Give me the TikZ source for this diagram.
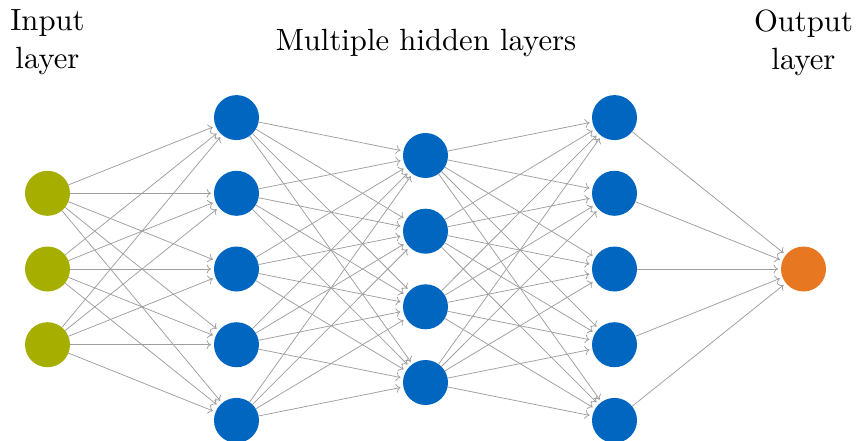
\documentclass[tikz,border=0pt]{standalone}
\usetikzlibrary{arrows.meta}
\definecolor{ingreen}{RGB}{166,174,0}
\definecolor{hidblue}{RGB}{0,102,192}
\definecolor{outorange}{RGB}{232,119,34}
\definecolor{edgegray}{RGB}{158,158,158}
\begin{document}
\begin{tikzpicture}[x=1pt,y=-1pt,
  neuron/.style={circle,minimum size=45pt,inner sep=0pt,outer sep=0pt,draw=none},
  innode/.style={neuron,fill=ingreen},
  hidnode/.style={neuron,fill=hidblue},
  outnode/.style={neuron,fill=outorange},
  conn/.style={draw=edgegray,line width=0.75pt,-{Computer Modern Rightarrow[length=4.5pt,width=9pt]},shorten >=3pt},
  lbl/.style={font=\fontsize{10}{12.4}\selectfont,scale=3.07,inner sep=0pt,align=center}]
\useasboundingbox (0,0) rectangle (856,441);
% input layer
\foreach \k/\y in {1/193.3,2/269,3/344.7} \node[innode] (i\k) at (47.5,\y) {};
% hidden layer 1
\foreach \k/\y in {1/117.6,2/193.3,3/269,4/344.7,5/420.4} \node[hidnode] (a\k) at (236.5,\y) {};
% hidden layer 2
\foreach \k/\y in {1/155.5,2/231.2,3/306.8,4/382.5} \node[hidnode] (b\k) at (425.5,\y) {};
% hidden layer 3
\foreach \k/\y in {1/117.6,2/193.3,3/269,4/344.7,5/420.4} \node[hidnode] (c\k) at (614.5,\y) {};
% output
\node[outnode] (o1) at (803.5,269) {};
% labels
\node[lbl,anchor=north] (linput) at (47.5,9) {Input\\layer};
\node[lbl,anchor=base] (lhidden) at (426,51) {Multiple hidden layers};
\node[lbl,anchor=north] (loutput) at (803.5,9) {Output\\layer};
% connections
\foreach \s in {1,2,3} \foreach \t in {1,...,5} \draw[conn] (i\s) -- (a\t);
\foreach \s in {1,...,5} \foreach \t in {1,...,4} \draw[conn] (a\s) -- (b\t);
\foreach \s in {1,...,4} \foreach \t in {1,...,5} \draw[conn] (b\s) -- (c\t);
\foreach \s in {1,...,5} \draw[conn] (c\s) -- (o1);
\end{tikzpicture}
\end{document}
